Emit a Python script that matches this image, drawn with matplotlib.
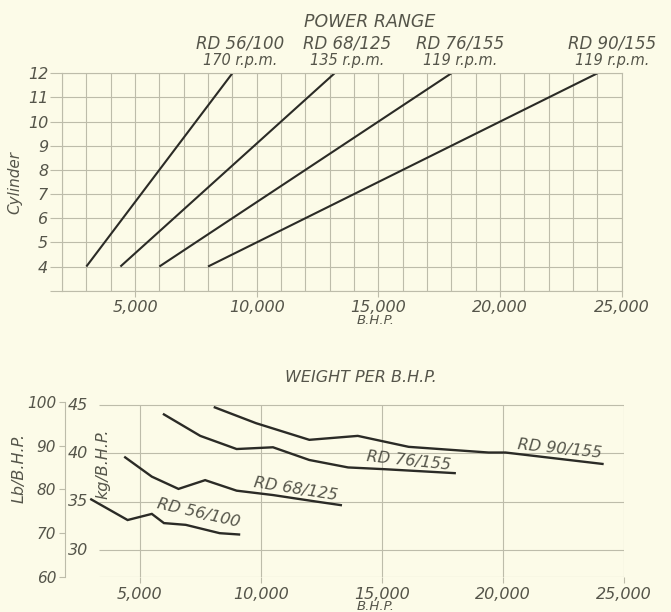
import matplotlib.pyplot as plt
import numpy as np

# power range: BHP at 4 and 12 cylinders
engines = ["RD 56/100", "RD 68/125", "RD 76/155", "RD 90/155"]
rpm_labels = ["170 r.p.m.", "135 r.p.m.", "119 r.p.m.", "119 r.p.m."]
cyl = [4, 12]
range_bhp = [[3000, 9000], [4400, 13200], [6000, 18000], [8000, 24000]]

# weight per BHP (lb/BHP)
rd56_bhp = [3000, 4500, 5500, 6000, 6900, 8300, 9100]
rd56_lb = [77.7, 73.0, 74.4, 72.3, 71.9, 70.0, 69.7]
rd68_bhp = [4400, 5500, 6600, 7700, 9000, 10500, 12300, 13300]
rd68_lb = [87.3, 82.9, 80.1, 82.1, 79.7, 78.7, 77.2, 76.4]
rd76_bhp = [6000, 7500, 9000, 10500, 12000, 13600, 15100, 18000]
rd76_lb = [97.1, 92.2, 89.2, 89.6, 86.7, 85.0, 84.6, 83.7]
rd90_bhp = [8100, 9800, 12000, 14000, 16100, 19400, 20100, 24100]
rd90_lb = [98.7, 95.1, 91.3, 92.2, 89.7, 88.4, 88.4, 85.8]

x_ticks = [5000, 10000, 15000, 20000, 25000]
x_ticklabels = ["5,000", "10,000", "15,000", "20,000", "25,000"]
lb_ticks = [60, 70, 80, 90, 100]
kg_ticks = [45, 40, 35, 30]
KG_TO_LB = 2.2046

bg = "#fcfbe8"
grid_c = "#bdbcaa"
ink = "#2b2b26"
txt = "#55554a"
plt.rcParams["font.family"] = "DejaVu Sans"
plt.rcParams["font.style"] = "italic"

W, H = 671, 612
fig = plt.figure(figsize=(W / 100, H / 100), dpi=100, facecolor=bg)

def fx(px):
    return px / W

def fy(py):
    return 1 - py / H

# ---------------- top chart: power range ----------------
ax = fig.add_axes([fx(62), fy(290.7), fx(621.7 - 62), (290.7 - 73.3) / H])
ax.set_facecolor(bg)
ax.set_xlim(2000, 25000)
ax.set_ylim(3, 12)
ax.set_xticks(x_ticks)
ax.set_xticklabels(x_ticklabels)
ax.set_xticks(range(2000, 25001, 1000), minor=True)
ax.set_yticks(range(3, 13))
ax.set_yticklabels([""] + [str(i) for i in range(4, 13)])
ax.grid(True, which="both", color=grid_c, linewidth=0.8)
ax.tick_params(axis="x", which="major", length=4, color=grid_c, labelsize=11.5, labelcolor=txt, pad=3)
ax.tick_params(axis="x", which="minor", length=0)
ax.tick_params(axis="y", length=9, color=grid_c, labelsize=11.5, labelcolor=txt, pad=1)
for s in ax.spines.values():
    s.set_color(grid_c)
    s.set_linewidth(0.8)
ax.set_axisbelow(True)

for bhp in range_bhp:
    ax.plot(bhp, cyl, color=ink, linewidth=1.5, solid_capstyle="butt")

ax.set_ylabel("Cylinder", fontsize=11, color=txt, labelpad=4)

label_x = [240, 347, 460, 612]
for x, name, rpm in zip(label_x, engines, rpm_labels):
    fig.text(fx(x), fy(43), name, ha="center", va="center", fontsize=12, color=txt)
    fig.text(fx(x), fy(60), rpm, ha="center", va="center", fontsize=10.5, color=txt)

fig.text(fx(370), fy(22), "POWER RANGE", ha="center", va="center", fontsize=12.5, color=txt)
fig.text(fx(376), fy(321), "B.H.P.", ha="center", va="center", fontsize=9.5, color=txt)

# ---------------- bottom chart: weight per BHP ----------------
ax2 = fig.add_axes([fx(64.6), fy(577), fx(624.3 - 64.6), (577 - 401.7) / H])
ax2.set_facecolor(bg)
ax2.patch.set_alpha(0)
ax2.set_xlim(1900, 25000)
ax2.set_ylim(60, 100)
ax2.set_xticks(x_ticks)
ax2.set_xticklabels(x_ticklabels)
ax2.set_yticks(lb_ticks)
ax2.tick_params(axis="x", length=4, color=grid_c, labelsize=11.5, labelcolor=txt, pad=3)
ax2.tick_params(axis="y", length=4, color=grid_c, labelsize=11, labelcolor=txt, pad=2)
for k in ["top", "right", "bottom"]:
    ax2.spines[k].set_visible(False)
ax2.spines["left"].set_color(grid_c)
ax2.spines["left"].set_linewidth(0.8)

top_lb = 45 * KG_TO_LB
ax2.vlines(x_ticks, 60, top_lb, color=grid_c, linewidth=0.8, zorder=0)
ax2.hlines(60, 3300, 25000, color=grid_c, linewidth=0.8, zorder=0)
for kg in kg_ticks:
    ax2.hlines(kg * KG_TO_LB, 3300, 25000, color=grid_c, linewidth=0.8, zorder=0)
    ax2.text(2040, kg * KG_TO_LB, str(kg), ha="left", va="center", fontsize=11.5, color=txt)

for bx, by in [(rd56_bhp, rd56_lb), (rd68_bhp, rd68_lb), (rd76_bhp, rd76_lb), (rd90_bhp, rd90_lb)]:
    ax2.plot(bx, by, color=ink, linewidth=1.7, solid_joinstyle="miter")

curve_labels = [(7430, 74.6, -13), (11450, 80.1, -9), (16110, 86.5, -6), (22320, 89.2, -6)]
for name, (lx, ly, rot) in zip(engines, curve_labels):
    ax2.text(lx, ly, name, ha="center", va="center", rotation=rot, fontsize=11.5, color=txt,
             rotation_mode="anchor")

fig.text(fx(19), fy(468), "Lb/B.H.P.", rotation=90, ha="center", va="center", fontsize=11.5, color=txt)
fig.text(fx(103), fy(464), "kg/B.H.P.", rotation=90, ha="center", va="center", fontsize=11.5, color=txt)
fig.text(fx(361), fy(378), "WEIGHT PER B.H.P.", ha="center", va="center", fontsize=11.5, color=txt)
fig.text(fx(376), fy(607), "B.H.P.", ha="center", va="center", fontsize=9.5, color=txt)

fig.savefig("out.png", dpi=100, facecolor=bg)
